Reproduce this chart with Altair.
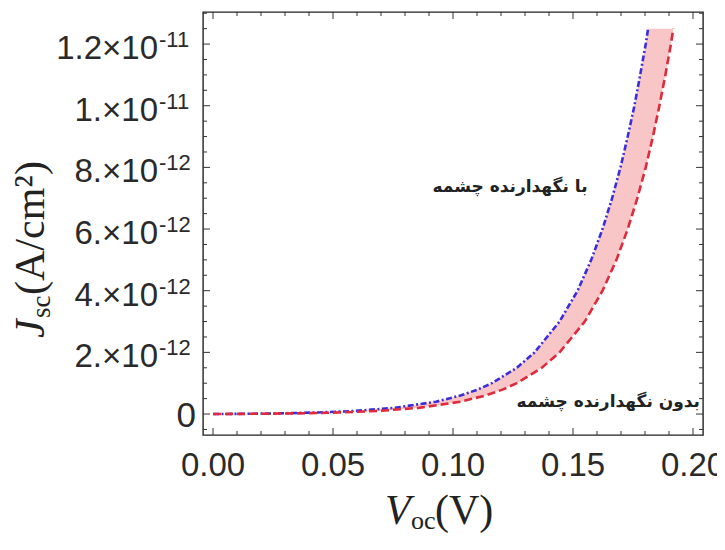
import altair as alt
import pandas as pd

# ---- data (J in units of 1e-12 A/cm^2, V in volts) ----
J_vals = [0, 0.01, 0.02, 0.05, 0.1, 0.2, 0.4, 0.6, 0.8, 1.0, 1.5, 2, 3, 4, 5, 6, 7, 8, 9, 10, 11, 12, 12.5]
V_with = [0, 0.0163, 0.0262, 0.0436, 0.0590, 0.0756, 0.0929, 0.1031, 0.1105, 0.1162, 0.1266, 0.1340,
          0.1444, 0.1519, 0.1576, 0.1623, 0.1663, 0.1698, 0.1728, 0.1756, 0.1780, 0.1803, 0.1813]
V_without = [0, 0.0218, 0.0334, 0.0525, 0.0686, 0.0857, 0.1031, 0.1135, 0.1209, 0.1266, 0.1370, 0.1444,
             0.1549, 0.1623, 0.1681, 0.1728, 0.1768, 0.1803, 0.1833, 0.1860, 0.1885, 0.1908, 0.1918]

series_names = ["with", "without"]
label_with = "با نگهدارنده چشمه"
label_without = "بدون نگهدارنده چشمه"

x_major = [0.00, 0.05, 0.10, 0.15, 0.20]
x_major_labels = ["0.00", "0.05", "0.10", "0.15", "0.20"]
x_minor = [0.01, 0.02, 0.03, 0.04, 0.06, 0.07, 0.08, 0.09, 0.11, 0.12, 0.13, 0.14, 0.16, 0.17, 0.18, 0.19]
y_major = [0, 2, 4, 6, 8, 10, 12]
y_mantissa = ["0", "2.×10", "4.×10", "6.×10", "8.×10", "1.×10", "1.2×10"]
y_exponent = ["", "-12", "-12", "-12", "-12", "-11", "-11"]
y_minor = [-0.5, 0.5, 1, 1.5, 2.5, 3, 3.5, 4.5, 5, 5.5, 6.5, 7, 7.5, 8.5, 9, 9.5,
           10.5, 11, 11.5, 12.5, 13]

W, H = 500, 423
TICK_FONT = "Liberation Sans Narrow, Liberation Sans, sans-serif"
SERIF = "Liberation Serif, serif"

xs = alt.Scale(domain=[-0.00417, 0.20417], nice=False, zero=False)
ys = alt.Scale(domain=[-0.68, 13.04], nice=False, zero=False)

curves = pd.DataFrame({
    "J": J_vals * 2,
    "V": V_with + V_without,
    "s": [series_names[0]] * len(J_vals) + [series_names[1]] * len(J_vals),
})
band = pd.DataFrame({"J": J_vals, "Vw": V_with, "Vo": V_without})

area = alt.Chart(band).mark_area(color="#f9c6c8", opacity=1).encode(
    y=alt.Y("J:Q", scale=ys, axis=None),
    x=alt.X("Vo:Q", scale=xs, axis=None),
    x2="Vw:Q",
)

lines = alt.Chart(curves).mark_line(strokeWidth=2.6).encode(
    x=alt.X("V:Q", scale=xs, axis=None),
    y=alt.Y("J:Q", scale=ys, axis=None),
    color=alt.Color("s:N", scale=alt.Scale(domain=series_names, range=["#3b2ed6", "#e02a3c"]), legend=None),
    strokeDash=alt.StrokeDash("s:N", scale=alt.Scale(domain=series_names, range=[[6, 2.5, 2, 2.5], [8, 4]]), legend=None),
    order="J:Q",
)

def xticks(vals, length):
    d = pd.DataFrame({"v": vals})
    b = alt.Chart(d).mark_rule(color="#333", strokeWidth=1).encode(
        x=alt.X("v:Q", scale=xs, axis=None), y=alt.value(H), y2=alt.value(H - length))
    t = alt.Chart(d).mark_rule(color="#333", strokeWidth=1).encode(
        x=alt.X("v:Q", scale=xs, axis=None), y=alt.value(0), y2=alt.value(length))
    return [b, t]

def yticks(vals, length):
    d = pd.DataFrame({"v": vals})
    l = alt.Chart(d).mark_rule(color="#333", strokeWidth=1).encode(
        y=alt.Y("v:Q", scale=ys, axis=None), x=alt.value(0), x2=alt.value(length))
    r = alt.Chart(d).mark_rule(color="#333", strokeWidth=1).encode(
        y=alt.Y("v:Q", scale=ys, axis=None), x=alt.value(W), x2=alt.value(W - length))
    return [l, r]

tick_layers = xticks(x_major, 7) + xticks(x_minor, 4) + yticks(y_major, 7) + yticks(y_minor, 4)

xlab = alt.Chart(pd.DataFrame({"v": x_major, "t": x_major_labels})).mark_text(
    font=TICK_FONT, fontSize=33, align="center", baseline="alphabetic", color="#2a2a2a"
).encode(x=alt.X("v:Q", scale=xs, axis=None), y=alt.value(H + 41), text="t:N")

ylab_df = pd.DataFrame({"v": y_major, "m": y_mantissa, "e": y_exponent})
ylab_zero = alt.Chart(ylab_df.iloc[:1]).mark_text(
    font=TICK_FONT, fontSize=35, align="right", baseline="alphabetic", dy=13, color="#2a2a2a"
).encode(y=alt.Y("v:Q", scale=ys, axis=None), x=alt.value(-7), text="m:N")
ylab_m = alt.Chart(ylab_df.iloc[1:]).mark_text(
    font=TICK_FONT, fontSize=33, align="right", baseline="alphabetic", dy=15, color="#2a2a2a"
).encode(y=alt.Y("v:Q", scale=ys, axis=None), x=alt.value(-45), text="m:N")
ylab_e = alt.Chart(ylab_df.iloc[1:]).mark_text(
    font=TICK_FONT, fontSize=22, align="left", baseline="alphabetic", dy=3, color="#2a2a2a"
).encode(y=alt.Y("v:Q", scale=ys, axis=None), x=alt.value(-44), text="e:N")

def txt(s, x, y, size, style="normal", font=SERIF, angle=0, align="left", weight="normal"):
    return alt.Chart(pd.DataFrame({"t": [s]})).mark_text(
        font=font, fontSize=size, fontStyle=style, fontWeight=weight, align=align,
        baseline="alphabetic", angle=angle, color="#222"
    ).encode(x=alt.value(x), y=alt.value(y), text="t:N")

titles = [
    txt("J", -159, 326, 42, style="italic", angle=270),
    txt("sc", -153, 306, 27, angle=270),
    txt("(A/cm²)", -159, 283, 42, angle=270),
    txt("V", 182, 512, 42, style="italic"),
    txt("oc", 208, 517, 26),
    txt("(V)", 232, 512, 42),
    txt(label_with, 307, 180, 17, font="DejaVu Sans", align="center", weight="bold"),
    txt(label_without, 497, 395, 17, font="DejaVu Sans", align="right", weight="bold"),
]

chart = alt.layer(
    area, lines, *tick_layers, xlab, ylab_zero, ylab_m, ylab_e, *titles
).properties(
    width=W, height=H,
    padding={"left": 195, "top": 4, "right": 14, "bottom": 101},
    autosize=alt.AutoSizeParams(type="none"),
).configure_view(stroke="#222", strokeWidth=1.4)

chart.save("out.html", embed_options={"renderer": "svg", "actions": False})
